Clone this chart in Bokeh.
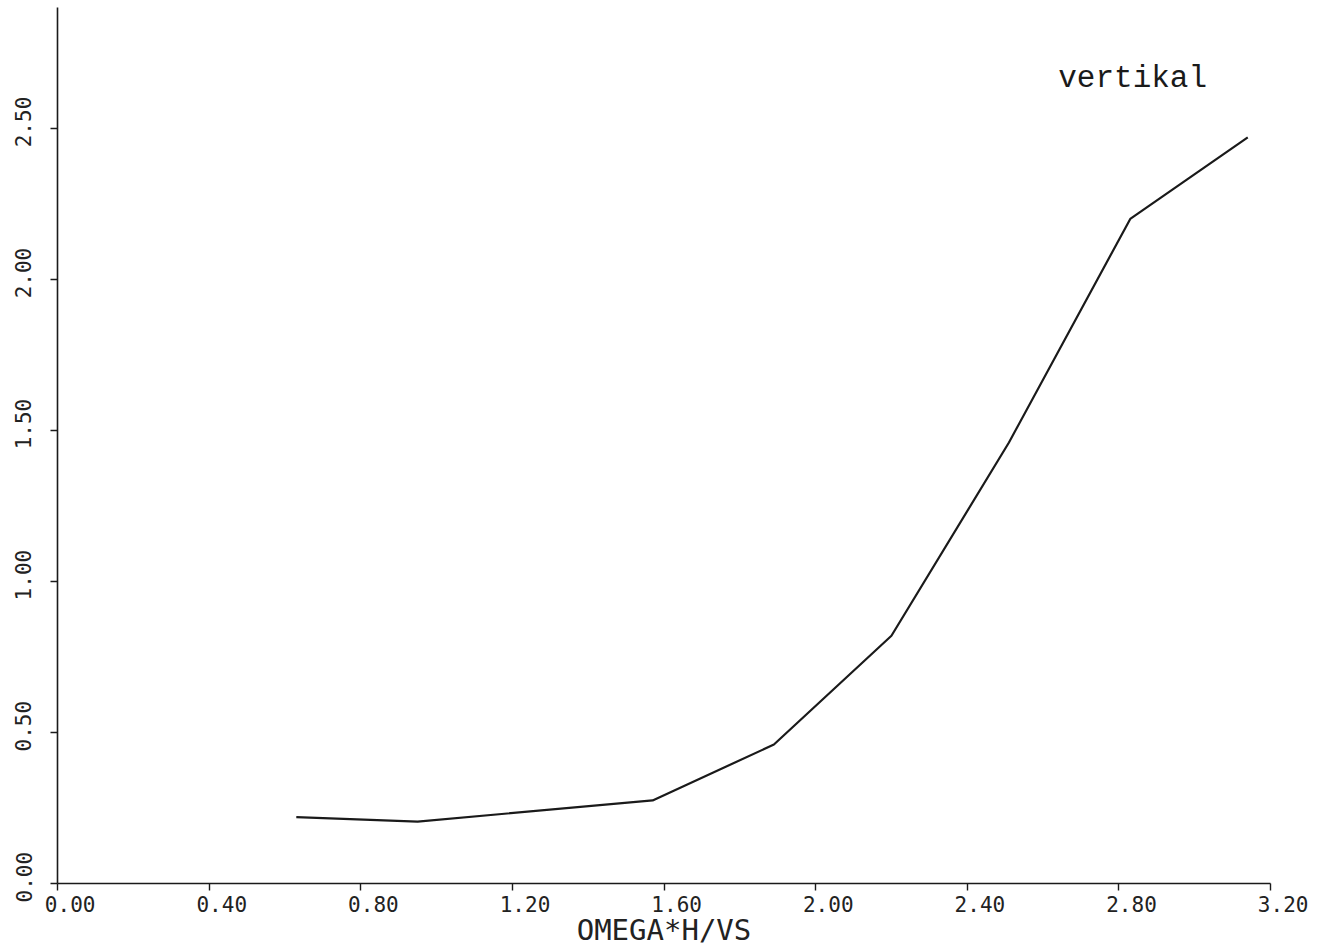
from bokeh.plotting import figure
from bokeh.models import FixedTicker, Label, Range1d
from bokeh.embed import file_html
from bokeh.resources import INLINE

# Data (OMEGA*H/VS vs. response, "vertikal")
omega_h_vs = [0.63, 0.95, 1.57, 1.89, 2.20, 2.51, 2.83, 3.14]
vertikal = [0.22, 0.205, 0.275, 0.46, 0.82, 1.46, 2.20, 2.47]

x_ticks = [0.0, 0.4, 0.8, 1.2, 1.6, 2.0, 2.4, 2.8, 3.2]
x_tick_labels = ["0.00", "0.40", "0.80", "1.20", "1.60", "2.00", "2.40", "2.80", "3.20"]
y_ticks = [0.0, 0.5, 1.0, 1.5, 2.0, 2.5]
y_tick_labels = ["0.00", "0.50", "1.00", "1.50", "2.00", "2.50"]

x_title = "OMEGA*H/VS"
series_name = "vertikal"

# plotter-style labels start near the tick: pad with no-break spaces
XPAD = "\u00a0\u00a0"
YPAD = "\u00a0"

p = figure(width=1330, height=949, output_backend="svg", toolbar_location=None,
           x_range=Range1d(0, 3.2), y_range=Range1d(0, 2.9),
           min_border_left=57, min_border_right=60, min_border_top=7,
           min_border_bottom=58)
p.outline_line_color = None
p.grid.visible = False
p.background_fill_color = "white"
p.border_fill_color = "white"

mono = "DejaVu Sans Mono"

for ax in (p.xaxis, p.yaxis):
    ax.axis_line_color = "#1a1a1a"
    ax.axis_line_width = 1.6
    ax.major_tick_line_color = "#1a1a1a"
    ax.major_tick_line_width = 1.4
    ax.major_tick_in = 0
    ax.major_tick_out = 7
    ax.minor_tick_line_color = None
    ax.major_label_text_font = mono
    ax.major_label_text_font_size = "21px"
    ax.major_label_text_color = "#222222"

p.xaxis.major_label_standoff = 2
p.yaxis.major_label_standoff = 14

p.xaxis.ticker = FixedTicker(ticks=x_ticks)
p.xaxis.major_label_overrides = {t: XPAD + s for t, s in zip(x_ticks, x_tick_labels)}
p.yaxis.ticker = FixedTicker(ticks=y_ticks)
p.yaxis.major_label_overrides = {t: YPAD + s for t, s in zip(y_ticks, y_tick_labels)}
p.yaxis.major_label_orientation = "parallel"

p.xaxis.axis_label = x_title
p.xaxis.axis_label_standoff = -7
p.xaxis.axis_label_text_font = mono
p.xaxis.axis_label_text_font_style = "normal"
p.xaxis.axis_label_text_font_size = "29px"
p.xaxis.axis_label_text_color = "#222222"

p.line(omega_h_vs, vertikal, line_color="#1a1a1a", line_width=2.2)

p.add_layout(Label(x=2.64, y=2.665, text=series_name, text_align="left",
                   text_baseline="alphabetic", text_font="Liberation Mono",
                   text_font_size="31px", text_color="#1a1a1a"))

open("out.html", "w").write(file_html(p, INLINE))
